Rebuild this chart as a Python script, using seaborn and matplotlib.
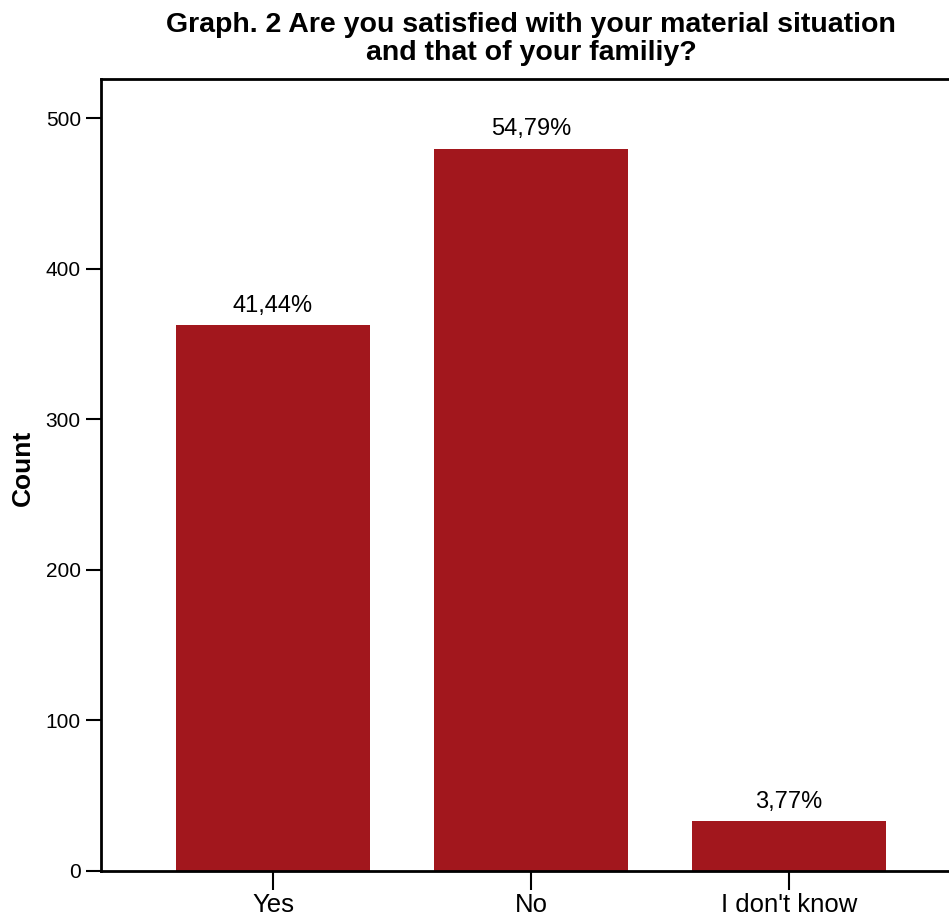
import matplotlib
matplotlib.use("Agg")
import matplotlib.pyplot as plt
import seaborn as sns
import pandas as pd

categories = ["Yes", "No", "I don't know"]
counts = [363, 480, 33]
pct_labels = ["41,44%", "54,79%", "3,77%"]
y_ticks = [0, 100, 200, 300, 400, 500]

sns.set_style("ticks")
plt.rcParams['font.family'] = ['Liberation Sans', 'DejaVu Sans']
plt.rcParams['text.color'] = 'black'
plt.rcParams['axes.labelcolor'] = 'black'

df = pd.DataFrame({"answer": categories, "count": counts})

fig = plt.figure(figsize=(9.49, 9.23), dpi=100)
ax = fig.add_axes([101/949, 52/923, 1 - 101/949, (871 - 78.7)/923])

sns.barplot(data=df, x="answer", y="count", order=categories, color="#A2171D",
            saturation=1, width=0.752, ax=ax, edgecolor="none")

for patch, lab in zip(ax.patches, pct_labels):
    ax.annotate(lab, (patch.get_x() + patch.get_width()/2, patch.get_height()),
                xytext=(0, 9.4), textcoords="offset points", ha="center", va="baseline",
                fontsize=17, color="black")

ax.set_xlim(-0.667, 2 + (949 - 788.7)/258)
ax.set_ylim(0, 526.4)
ax.set_yticks(y_ticks)
ax.set_yticklabels([str(v) for v in y_ticks])
ax.tick_params(axis="y", length=11, width=1.5, labelsize=15, pad=3.5, colors="black")
ax.tick_params(axis="x", length=14, width=1.5, labelsize=18.5, pad=2, colors="black")
ax.set_xlabel("")
ax.set_ylabel("Count", fontsize=19, fontweight="bold")
ax.yaxis.set_label_coords(-(101 - 23)/848, (871 - 468)/(871 - 78.7))
ax.yaxis.label.set_va("center")

for s in ["left", "bottom", "top"]:
    ax.spines[s].set_visible(True)
    ax.spines[s].set_linewidth(2)
    ax.spines[s].set_color("black")
ax.spines["right"].set_visible(False)

fig.text(531/949, 1 - 39/923, "Graph. 2 Are you satisfied with your material situation\nand that of your familiy?",
         ha="center", va="center", fontsize=20.5, fontweight="bold", linespacing=1.12, color="black")

fig.savefig("out.png", dpi=100)
